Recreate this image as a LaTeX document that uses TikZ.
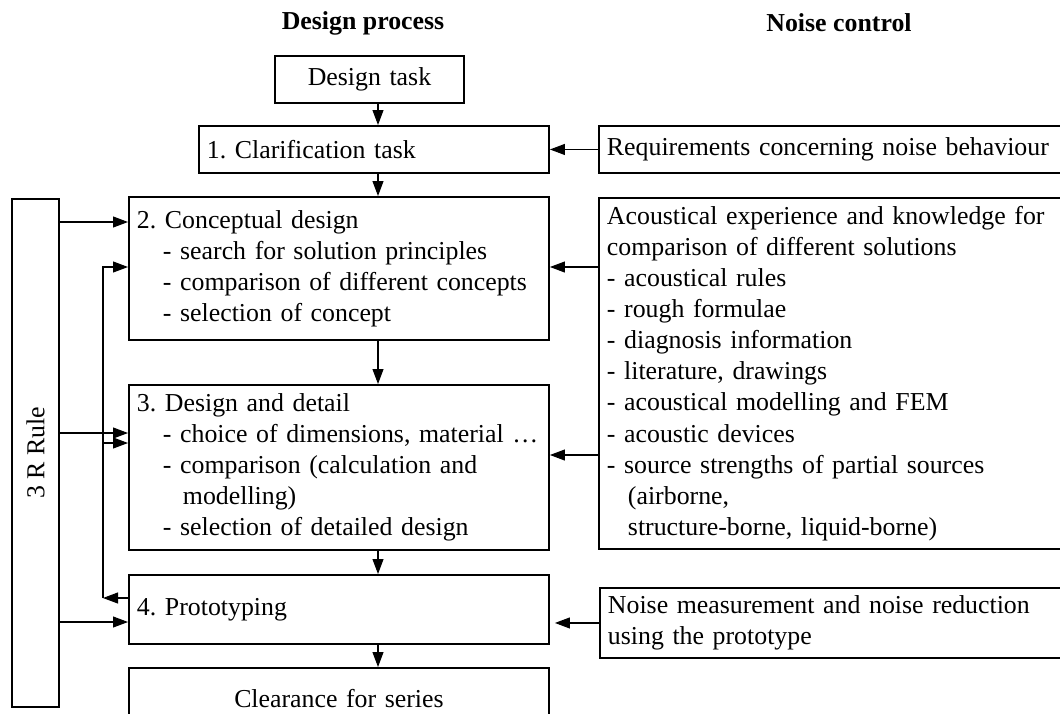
\documentclass[tikz,border=0pt]{standalone}
\usepackage{fontspec}
\setmainfont{Liberation Serif}
\usetikzlibrary{arrows.meta}
\usetikzlibrary{calc}

\tikzset{
  kotak/.style={draw, line width=1.1pt, inner xsep=0.16cm, inner ysep=0pt, align=left, anchor=north west},
  panah/.style={line width=0.6pt, -{Triangle[length=0.3cm,width=0.22cm]}},
  judul/.style={font=\fontsize{14.7}{17.7}\selectfont\bfseries},
}
\frenchspacing

\begin{document}
\begin{tikzpicture}[font=\fontsize{14.7}{17.7}\selectfont]
    % batas gambar
    \useasboundingbox (0,0) rectangle (21.2,-14.26);
    \clip (0,0) rectangle (21.2,-14.26);

    % judul kolom
    \node[judul] (hproses) at (7.26,-0.46) {Design process};
    \node[judul] (hbising) at (16.78,-0.46) {Noise control};

    % kotak proses desain
    \node[kotak, align=center, text width=3.46cm, minimum height=0.94cm] (task) at (5.48,-1.10) {Design task};
    \node[kotak, text width=6.68cm, minimum height=0.94cm] (klarif) at (3.96,-2.50) {1. Clarification task};
    \node[kotak, text width=8.08cm, minimum height=2.86cm] (konsep) at (2.56,-3.92) {2. Conceptual design\\
      \hspace*{0.52cm}- search for solution principles\\
      \hspace*{0.52cm}- comparison of different concepts\\
      \hspace*{0.52cm}- selection of concept};
    \node[kotak, text width=8.08cm, minimum height=3.30cm] (detail) at (2.56,-7.68) {3. Design and detail\\
      \hspace*{0.52cm}- choice of dimensions, material …\\
      \hspace*{0.52cm}- comparison (calculation and\\
      \hspace*{0.92cm}modelling)\\
      \hspace*{0.52cm}- selection of detailed design};
    \node[kotak, text width=8.08cm, minimum height=1.38cm] (proto) at (2.56,-11.48) {4. Prototyping};
    \node[kotak, align=center, text width=8.08cm, minimum height=1.24cm] (rilis) at (2.56,-13.34) {Clearance for series};

    % kotak kontrol kebisingan
    \node[kotak, text width=9.08cm, minimum height=0.94cm] (syarat) at (11.96,-2.50) {Requirements concerning noise behaviour};
    \node[kotak, text width=9.08cm, minimum height=7.02cm] (ilmu) at (11.96,-3.94) {Acoustical experience and knowledge for\\
      comparison of different solutions\\
      - acoustical rules\\
      - rough formulae\\
      - diagnosis information\\
      - literature, drawings\\
      - acoustical modelling and FEM\\
      - acoustic devices\\
      - source strengths of partial sources\\
      \hspace*{0.42cm}(airborne,\\
      \hspace*{0.42cm}structure-borne, liquid-borne)};
    \node[kotak, text width=9.08cm, minimum height=1.40cm] (ukur) at (11.98,-11.74) {Noise measurement and noise reduction\\
      using the prototype};

    % kotak aturan 3R
    \node[kotak, minimum width=0.94cm, minimum height=10.16cm] (aturan) at (0.22,-3.96) {};
    \node[rotate=90] (aturanteks) at (aturan.center) {3 R Rule};

    % panah utama
    \coordinate (sumbu) at (7.56,0);
    \draw[panah] (task.south -| sumbu) -- (klarif.north -| sumbu);
    \draw[panah] (klarif.south -| sumbu) -- (konsep.north -| sumbu);
    \draw[panah] (konsep.south -| sumbu) -- (detail.north -| sumbu);
    \draw[panah] (detail.south -| sumbu) -- (proto.north -| sumbu);
    \draw[panah] (proto.south -| sumbu) -- (rilis.north -| sumbu);

    % panah dari kontrol kebisingan
    \coordinate (k2) at (0,-5.34);
    \coordinate (k3) at (0,-9.10);
    \draw[panah] (syarat.west) -- (klarif.east);
    \draw[panah] (ilmu.west |- k2) -- (konsep.east |- k2);
    \draw[panah] (ilmu.west |- k3) -- (detail.east |- k3);
    \draw[panah, shorten >=0.1cm] (ukur.west) -- (proto.east |- ukur.west);

    % panah aturan 3R
    \coordinate (r2) at (0,-4.44);
    \coordinate (r3) at (0,-8.66);
    \coordinate (r4) at (0,-12.44);
    \draw[panah] (aturan.east |- r2) -- (konsep.west |- r2);
    \draw[panah] (aturan.east |- r3) -- (detail.west |- r3);
    \draw[panah] (aturan.east |- r4) -- (proto.west |- r4);

    % umpan balik
    \coordinate (b4) at (2.06,-11.96);
    \coordinate (b3) at (2.06,-8.86);
    \coordinate (b2) at (2.06,-5.34);
    \draw[panah] (proto.west |- b4) -- (b4);
    \draw[panah] (b4) -- (b2) -- (konsep.west |- b2);
    \draw[panah] (b3) -- (detail.west |- b3);
\end{tikzpicture}
\end{document}
